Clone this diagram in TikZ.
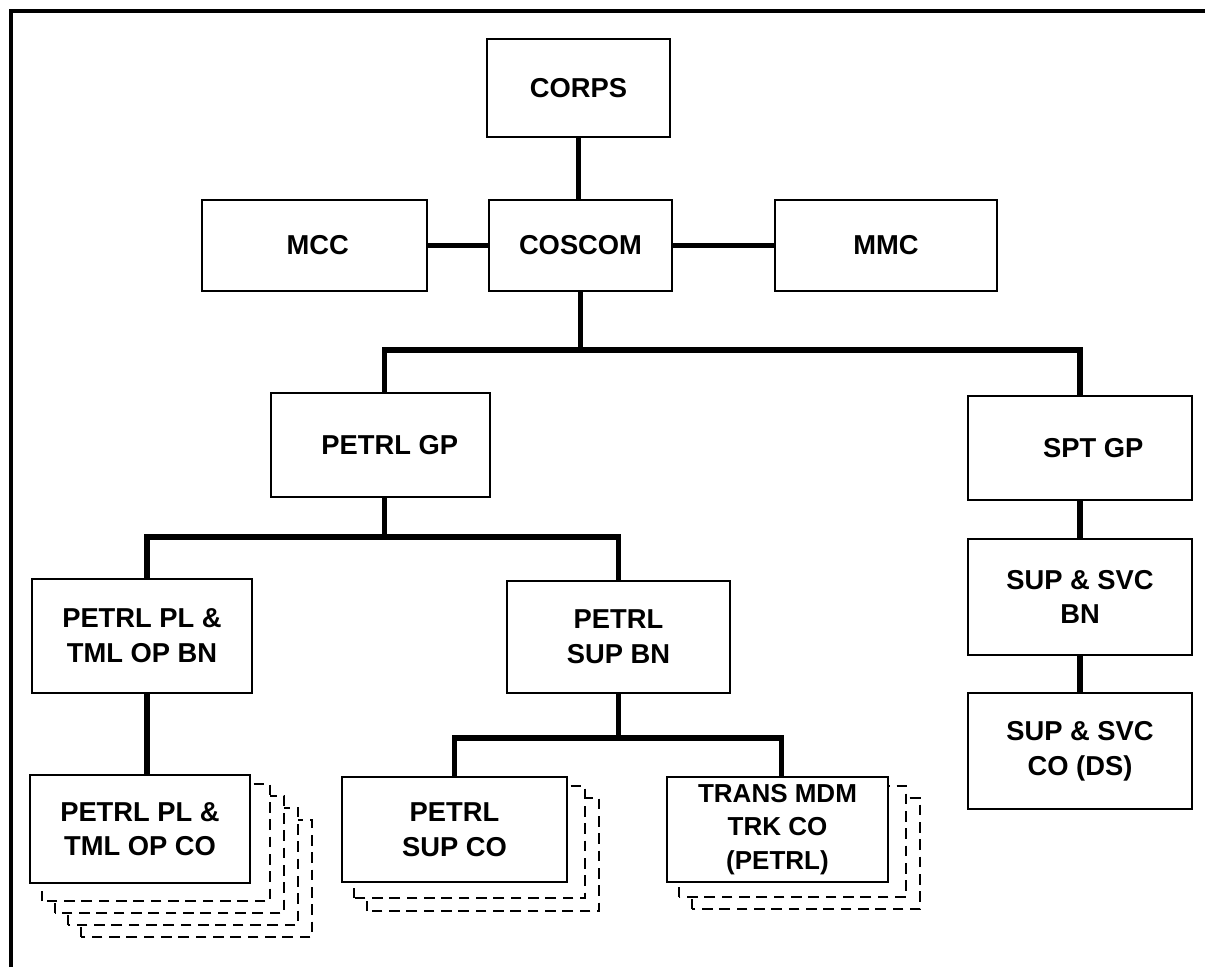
\documentclass[tikz,border=0pt]{standalone}
\usepackage{fontspec}
\setmainfont{Liberation Sans}
\usetikzlibrary{backgrounds,calc}
\tikzset{
  unitbox/.style={draw=black, line width=1.8pt, fill=white, rectangle, align=center,
    inner sep=0pt, font=\fontsize{20.5}{26}\selectfont\bfseries},
  conn/.style={draw=black, line width=4.4pt, line join=miter, line cap=butt},
  shadowbox/.style={draw=black, line width=1.7pt, fill=white, dash pattern=on 8pt off 5pt},
  frameline/.style={draw=black, line width=2.4pt, line join=miter}
}
\begin{document}
\begin{tikzpicture}[x=0.75pt, y=-0.75pt]
\useasboundingbox (0,0) rectangle (1205,967);
\draw[frameline] (11,967) -- (11,11) -- (1205,11);

% top level
\node[unitbox, minimum width=183*0.75pt, minimum height=98*0.75pt] (corps) at (578.5,88) {CORPS};
\node[unitbox, minimum width=225*0.75pt, minimum height=91*0.75pt] (mcc) at (314.5,245.5) {\hspace*{5pt}MCC};
\node[unitbox, minimum width=183*0.75pt, minimum height=91*0.75pt] (coscom) at (580.5,245.5) {COSCOM};
\node[unitbox, minimum width=222*0.75pt, minimum height=91*0.75pt] (mmc) at (886,245.5) {MMC};

% groups
\node[unitbox, minimum width=219*0.75pt, minimum height=104*0.75pt] (petrlgp) at (380.5,445) {\hspace*{14pt}PETRL GP};
\node[unitbox, minimum width=224*0.75pt, minimum height=104*0.75pt] (sptgp) at (1080,448) {\hspace*{20pt}SPT GP};

% battalions
\node[unitbox, minimum width=220*0.75pt, minimum height=114*0.75pt] (plbn) at (142,636) {PETRL PL \&\\TML OP BN};
\node[unitbox, minimum width=223*0.75pt, minimum height=112*0.75pt] (supbn) at (618.5,637) {PETRL\\SUP BN};
\node[unitbox, minimum width=224*0.75pt, minimum height=116*0.75pt] (ssbn) at (1080,597) {SUP \& SVC\\BN};
\node[unitbox, minimum width=224*0.75pt, minimum height=116*0.75pt] (ssco) at (1080,751) {SUP \& SVC\\CO (DS)};

% companies
\node[unitbox, minimum width=220*0.75pt, minimum height=108*0.75pt] (plco) at (140,829) {PETRL PL \&\\TML OP CO};
\node[unitbox, minimum width=225*0.75pt, minimum height=105*0.75pt] (supco) at (454.5,829.5) {PETRL\\SUP CO};
\node[unitbox, minimum width=221*0.75pt, minimum height=105*0.75pt, font=\fontsize{19.5}{25}\selectfont\bfseries] (trk) at (777.5,829.5) {TRANS MDM\\TRK CO\\(PETRL)};

% stacked copies behind the company boxes
\begin{scope}[on background layer]
  \fill[white] (0,0) rectangle (1205,967);
  \foreach \k in {4,3,2,1} {
    \draw[shadowbox] ($(plco.south west)+(13*\k,12*\k+5)$) rectangle ($(plco.north east)+(14*\k+5,12*\k-2)$);
  }
  \foreach \k in {2,1} {
    \draw[shadowbox] ($(supco.south west)+(13*\k,13*\k+2)$) rectangle ($(supco.north east)+(14*\k+3,12*\k-2)$);
    \draw[shadowbox] ($(trk.south west)+(13*\k,12*\k+2)$) rectangle ($(trk.north east)+(14*\k+3,12*\k-2)$);
  }
\end{scope}

% bar levels
\coordinate (barA) at (0,350);
\coordinate (barB) at (0,537);
\coordinate (barC) at (0,738);

% connectors
\draw[conn] (corps.south) -- (corps.south |- coscom.north);
\draw[conn] (mcc.east) -- (coscom.west);
\draw[conn] (coscom.east) -- (mmc.west);
\draw[conn] (coscom.south) -- (coscom.south |- barA);
\draw[conn] ([xshift=3pt]petrlgp.north) |- (sptgp.north |- barA) -- (sptgp.north);
\draw[conn] ([xshift=3pt]petrlgp.south) -- ([xshift=3pt]petrlgp.south |- barB);
\draw[conn] ([xshift=4pt]plbn.north) |- (supbn.north |- barB) -- (supbn.north);
\draw[conn] ([xshift=4pt]plbn.south) -- ([xshift=4pt]plbn.south |- plco.north);
\draw[conn] (supbn.south) -- (supbn.south |- barC);
\draw[conn] (supco.north) |- ([xshift=3pt]trk.north |- barC) -- ([xshift=3pt]trk.north);
\draw[conn] (sptgp.south) -- (ssbn.north);
\draw[conn] (ssbn.south) -- (ssco.north);
\end{tikzpicture}
\end{document}
